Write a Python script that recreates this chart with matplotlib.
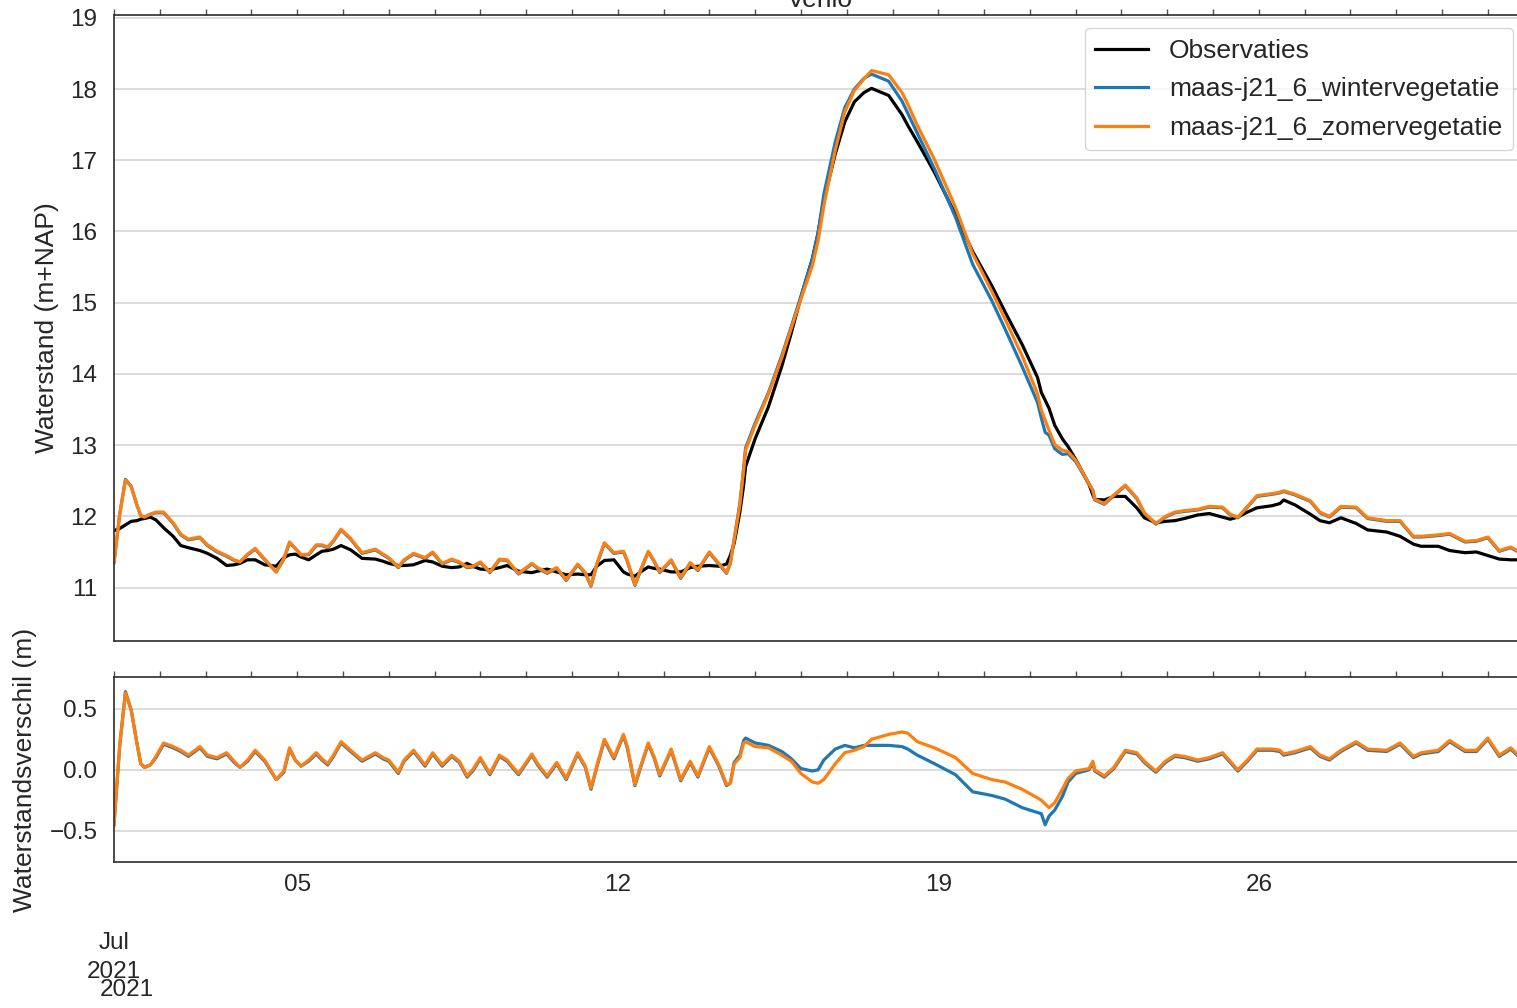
import numpy as np
import pandas as pd
import matplotlib
matplotlib.use("Agg")
import matplotlib.pyplot as plt
import matplotlib.dates as mdates

plt.rcParams['font.family'] = ['Liberation Sans', 'DejaVu Sans']

# Meetpunt Venlo, juli 2021 (tijd in uren na 1 juli 00:00)
start = pd.Timestamp("2021-07-01 00:00")
uren = [
    0, 3, 6, 9, 12, 14, 16, 19, 22, 26,
    31, 35, 39, 45, 49, 54, 59, 63, 66, 70,
    74, 79, 85, 89, 92, 95, 98, 102, 106, 109,
    112, 115, 119, 124, 130, 137, 141, 144, 149, 152,
    157, 163, 167, 172, 177, 181, 185, 188, 192, 197,
    202, 206, 212, 219, 222, 227, 232, 237, 243, 247,
    250, 253, 257, 262, 267, 269, 273, 276, 280, 283,
    286, 292, 297, 302, 306, 312, 317, 321, 323, 325,
    328, 330, 331, 336, 343, 350, 355, 360, 366, 369,
    372, 378, 383, 388, 393, 397, 406, 413, 416, 421,
    430, 441, 450, 460, 467, 476, 484, 486, 488, 490,
    493, 497, 500, 504, 511, 513, 514, 519, 524, 530,
    536, 540, 546, 551, 556, 561, 568, 574, 581, 585,
    589, 594, 599, 607, 611, 613, 619, 627, 632, 637,
    643, 651, 657, 667, 674, 681, 685, 694, 700, 708,
    714, 720, 726, 732, 736, 740,
]

# Gemeten waterstand (m+NAP)
observaties = [
    11.80, 11.83, 11.88, 11.93, 11.94, 11.96, 11.97, 11.99, 11.95, 11.84,
    11.72, 11.59, 11.56, 11.52, 11.48, 11.41, 11.31, 11.32, 11.34, 11.39,
    11.39, 11.32, 11.30, 11.42, 11.46, 11.47, 11.43, 11.39, 11.46, 11.51,
    11.52, 11.54, 11.59, 11.53, 11.41, 11.40, 11.37, 11.34, 11.31, 11.31,
    11.32, 11.38, 11.36, 11.30, 11.28, 11.29, 11.34, 11.30, 11.26, 11.25,
    11.28, 11.31, 11.23, 11.21, 11.23, 11.26, 11.22, 11.18, 11.19, 11.18,
    11.18, 11.30, 11.38, 11.39, 11.22, 11.19, 11.16, 11.22, 11.29, 11.27,
    11.26, 11.22, 11.22, 11.28, 11.30, 11.31, 11.30, 11.33, 11.45, 11.62,
    12.06, 12.44, 12.70, 13.09, 13.54, 14.11, 14.58, 15.08, 15.62, 15.98,
    16.44, 17.09, 17.54, 17.82, 17.95, 18.01, 17.91, 17.64, 17.49, 17.26,
    16.83, 16.24, 15.72, 15.24, 14.87, 14.41, 13.95, 13.74, 13.63, 13.52,
    13.28, 13.09, 12.98, 12.80, 12.45, 12.30, 12.24, 12.23, 12.28, 12.28,
    12.12, 11.98, 11.91, 11.93, 11.94, 11.97, 12.02, 12.04, 11.99, 11.96,
    11.99, 12.06, 12.12, 12.15, 12.18, 12.23, 12.16, 12.03, 11.94, 11.91,
    11.98, 11.90, 11.81, 11.78, 11.72, 11.61, 11.58, 11.58, 11.52, 11.49,
    11.50, 11.45, 11.40, 11.39, 11.39, 11.37,
]

# Verschil model - observatie (m), wintervegetatie
verschil_winter = [
    -0.45, 0.20, 0.64, 0.49, 0.22, 0.05, 0.02, 0.04, 0.10, 0.21,
    0.18, 0.15, 0.11, 0.18, 0.11, 0.09, 0.13, 0.06, 0.02, 0.07,
    0.15, 0.07, -0.08, -0.02, 0.17, 0.08, 0.03, 0.07, 0.13, 0.08,
    0.04, 0.11, 0.22, 0.15, 0.07, 0.13, 0.09, 0.07, -0.03, 0.07,
    0.15, 0.03, 0.13, 0.03, 0.11, 0.06, -0.06, -0.01, 0.09, -0.04,
    0.11, 0.07, -0.04, 0.12, 0.04, -0.06, 0.05, -0.08, 0.13, 0.02,
    -0.16, 0.02, 0.24, 0.09, 0.28, 0.18, -0.13, 0.02, 0.21, 0.10,
    -0.05, 0.16, -0.09, 0.06, -0.06, 0.18, 0.03, -0.13, -0.11, 0.06,
    0.12, 0.24, 0.26, 0.22, 0.20, 0.15, 0.09, 0.01, -0.01, 0.00,
    0.08, 0.17, 0.20, 0.18, 0.20, 0.20, 0.20, 0.19, 0.17, 0.12,
    0.05, -0.04, -0.18, -0.21, -0.24, -0.31, -0.35, -0.36, -0.45, -0.38,
    -0.33, -0.22, -0.10, -0.03, 0.00, 0.06, -0.01, -0.06, 0.01, 0.15,
    0.13, 0.06, -0.02, 0.06, 0.11, 0.10, 0.07, 0.09, 0.13, 0.06,
    -0.01, 0.07, 0.16, 0.16, 0.15, 0.12, 0.14, 0.18, 0.11, 0.08,
    0.15, 0.22, 0.16, 0.15, 0.21, 0.10, 0.13, 0.15, 0.23, 0.15,
    0.15, 0.25, 0.11, 0.17, 0.11, 0.13,
]

# Verschil model - observatie (m), zomervegetatie
verschil_zomer = [
    -0.45, 0.20, 0.63, 0.49, 0.22, 0.05, 0.02, 0.04, 0.11, 0.22,
    0.19, 0.16, 0.12, 0.19, 0.12, 0.10, 0.14, 0.07, 0.02, 0.08,
    0.16, 0.08, -0.08, -0.01, 0.18, 0.08, 0.03, 0.08, 0.14, 0.09,
    0.05, 0.12, 0.23, 0.16, 0.08, 0.14, 0.10, 0.08, -0.02, 0.08,
    0.16, 0.04, 0.14, 0.04, 0.12, 0.07, -0.05, 0.00, 0.10, -0.03,
    0.12, 0.08, -0.03, 0.13, 0.05, -0.05, 0.06, -0.07, 0.14, 0.03,
    -0.15, 0.03, 0.25, 0.10, 0.29, 0.19, -0.12, 0.03, 0.22, 0.11,
    -0.04, 0.17, -0.08, 0.07, -0.05, 0.19, 0.04, -0.12, -0.11, 0.05,
    0.10, 0.22, 0.23, 0.19, 0.18, 0.12, 0.07, -0.03, -0.10, -0.11,
    -0.08, 0.05, 0.14, 0.16, 0.19, 0.25, 0.29, 0.31, 0.30, 0.23,
    0.18, 0.10, -0.03, -0.08, -0.10, -0.16, -0.23, -0.25, -0.28, -0.31,
    -0.27, -0.16, -0.07, -0.01, 0.01, 0.07, 0.00, -0.05, 0.02, 0.16,
    0.14, 0.07, -0.01, 0.07, 0.12, 0.11, 0.08, 0.10, 0.14, 0.07,
    0.00, 0.08, 0.17, 0.17, 0.16, 0.13, 0.15, 0.19, 0.12, 0.09,
    0.16, 0.23, 0.17, 0.16, 0.22, 0.11, 0.14, 0.16, 0.24, 0.16,
    0.16, 0.26, 0.12, 0.18, 0.12, 0.14,
]

tijd = (start + pd.to_timedelta(uren, unit="h")).values
obs = np.array(observaties)
winter = obs + np.array(verschil_winter)
zomer = obs + np.array(verschil_zomer)

c_obs, c_winter, c_zomer = "black", "#1f77b4", "#ff7f0e"
tekst = "0.15"
lw = 2.3
fs_tick, fs_label, fs_leg = 17.5, 19, 19

fig = plt.figure(figsize=(15.17, 10.08), dpi=100)
ax1 = fig.add_axes([0.07515, 0.36409, 0.93078, 0.62103])
ax2 = fig.add_axes([0.07515, 0.14484, 0.93078, 0.18353], sharex=ax1)

ax1.plot(tijd, obs, color=c_obs, lw=lw, label="Observaties")
ax1.plot(tijd, winter, color=c_winter, lw=lw, label="maas-j21_6_wintervegetatie")
ax1.plot(tijd, zomer, color=c_zomer, lw=lw, label="maas-j21_6_zomervegetatie")

ax2.plot(tijd, verschil_winter, color=c_winter, lw=lw)
ax2.plot(tijd, verschil_zomer, color=c_zomer, lw=lw)

ax1.set_xlim(tijd[0], tijd[-1])
ax1.set_ylim(10.25, 19.04)
ax1.set_yticks(range(11, 20))
ax2.set_ylim(-0.755, 0.76)
ax2.set_yticks([-0.5, 0.0, 0.5])

weken = [pd.Timestamp(f"2021-07-{d:02d}") for d in (1, 5, 12, 19, 26)]
ax2.set_xticks(weken)
ax2.set_xticklabels(["\n\nJul\n2021", "05", "12", "19", "26"])

for ax in (ax1, ax2):
    ax.xaxis.set_minor_locator(mdates.DayLocator())
    ax.tick_params(axis="x", which="both", top=True, bottom=False,
                   labeltop=False, direction="out", length=4, width=1,
                   color="0.3", pad=4.5, labelsize=fs_tick, labelcolor=tekst)
    ax.tick_params(axis="y", length=0, pad=12, labelsize=fs_tick, labelcolor=tekst)
    ax.grid(axis="y", color="0.85", lw=1.3)
    ax.grid(axis="x", visible=False)
    ax.set_axisbelow(True)
    for s in ax.spines.values():
        s.set_color("0.2")
        s.set_linewidth(1.25)
ax1.tick_params(axis="x", labelbottom=False)
for lab in ax2.get_xticklabels():
    lab.set_linespacing(1.42)

ax2.annotate("2021", xy=(tijd[0], 0), xycoords=("data", "axes fraction"),
             xytext=(9.5, -92), textcoords="offset points", ha="center",
             va="center", fontsize=fs_tick, color=tekst, annotation_clip=False)

ax1.set_ylabel("Waterstand (m+NAP)", fontsize=fs_label, color=tekst, labelpad=8)
ax2.set_ylabel("Waterstandsverschil (m)", fontsize=fs_label, color=tekst, labelpad=9)
ax1.set_title("Venlo", fontsize=fs_label, color=tekst)

leg = ax1.legend(loc="upper right", fontsize=fs_leg, frameon=True, fancybox=True,
                 framealpha=0.8, edgecolor="0.8", labelspacing=0.55)
for t in leg.get_texts():
    t.set_color(tekst)

fig.savefig("out.png", dpi=100)
